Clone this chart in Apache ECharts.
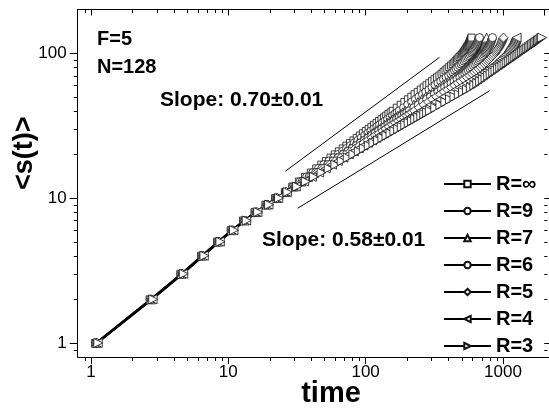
<!DOCTYPE html>
<html><head><meta charset="utf-8">
<script src="https://cdn.jsdelivr.net/npm/echarts@6/dist/echarts.min.js"></script>
<style>html,body{margin:0;padding:0;background:#fff}#c{width:549px;height:408px}</style>
</head><body><div id="c"></div>
<script>
// s values (cluster size), shared by all series
const sValues = [1,2,3,4,5,6,7,8,9,10,11,12,13,14,15,16,17,18,19,20,21,22,23,24,25,26,27,28,29,30,31,32,33,34,35,36,37,38,39,40,
  42,44,46,48,50,52,54,56,58,60,62,64,66,68,70,72,74,76,78,80,82,84,86,88,90,92,94,96,98,100,102,104,106,108,110,112,114,116,118,120,122,124,126,128];
// time values for each series
const tRinf = [1.07,2.67,4.47,6.32,8.27,10.4,12.8,15.5,18.6,21.9,25.8,29.2,32.6,36.2,39.9,43.6,47.5,51.4,55.5,59.6,
  63.8,68.1,72.5,77.0,81.5,86.1,90.8,95.5,100.3,105.2,110.2,115.1,120.2,125.3,130.5,135.8,141.1,146.4,151.9,157.4,
  168.5,179.8,191.4,203.1,215.1,227.2,239.5,252.0,264.8,277.6,290.6,303.9,317.2,330.8,344.4,357.2,369.3,381.4,393.8,406.0,
  418.4,430.8,442.0,452.1,462.3,472.5,482.5,492.7,502.7,512.9,519.9,526.9,533.9,540.8,547.6,554.5,561.3,566.7,570.9,574.7,
  578.7,582.8,586.6,590.2];
const tR9 = [1.08,2.70,4.52,6.39,8.36,10.5,13.0,15.7,18.9,22.2,26.0,29.6,33.3,37.2,41.2,45.3,49.5,53.9,58.4,63.0,
  67.8,72.6,77.5,82.5,87.7,92.9,98.3,103.7,109.2,114.8,120.6,126.3,132.2,138.2,144.3,150.4,156.6,163.0,169.3,175.8,
  188.9,202.5,216.2,230.2,244.6,259.3,274.2,289.2,304.6,320.4,336.4,352.5,368.9,385.6,402.5,417.0,429.9,443.0,456.0,469.0,
  482.2,495.2,507.5,519.2,530.8,542.4,554.1,565.7,577.1,588.8,596.5,604.2,611.7,619.3,626.9,634.2,641.6,647.7,652.6,656.9,
  661.4,666.1,670.3,674.5];
const tR7 = [1.09,2.73,4.56,6.45,8.44,10.6,13.1,15.9,19.1,22.5,26.2,30.0,33.9,38.1,42.4,46.8,51.4,56.2,61.1,66.2,
  71.4,76.7,82.1,87.8,93.5,99.4,105.4,111.5,117.7,124.0,130.5,137.1,143.8,150.6,157.5,164.6,171.7,178.9,186.3,193.8,
  208.9,224.6,240.6,257.0,273.8,290.9,308.5,326.4,344.6,363.2,382.1,401.5,421.0,441.0,461.3,478.2,493.2,508.2,523.3,538.3,
  553.4,568.6,582.6,596.1,609.4,622.8,636.2,649.6,662.7,676.1,684.2,692.3,700.5,708.4,716.3,724.3,732.0,738.1,742.0,745.6,
  749.4,753.2,756.8,760.3];
const tR6 = [1.10,2.75,4.60,6.50,8.50,10.7,13.2,16.0,19.2,22.6,26.3,30.3,34.4,38.7,43.2,47.9,52.8,57.9,63.1,68.5,
  74.1,79.8,85.6,91.7,97.9,104.2,110.7,117.3,124.1,131.0,138.1,145.3,152.6,160.1,167.7,175.4,183.3,191.3,199.5,207.7,
  224.4,241.9,259.7,277.9,296.8,316.0,335.6,355.7,376.3,397.2,418.6,440.5,462.7,485.3,508.5,527.2,543.1,559.2,575.1,591.2,
  607.5,623.6,639.0,653.6,668.3,682.9,697.5,712.2,726.6,741.3,750.3,759.1,768.1,776.8,785.4,794.2,802.6,809.6,815.0,819.7,
  824.8,830.1,834.8,839.5];
const tR5 = [1.11,2.78,4.64,6.56,8.58,10.8,13.3,16.2,19.4,22.8,26.5,30.6,34.9,39.5,44.3,49.3,54.5,59.9,65.6,71.4,
  77.4,83.6,90.0,96.6,103.4,110.4,117.5,124.9,132.3,140.0,147.8,155.8,163.9,172.3,180.8,189.5,198.3,207.3,216.4,225.7,
  244.6,264.4,284.6,305.4,326.8,348.9,371.4,394.5,418.0,442.4,467.1,492.4,518.1,544.5,571.3,595.2,617.3,639.7,662.2,684.9,
  707.6,730.7,751.2,769.8,788.1,806.8,825.2,843.9,862.4,881.0,892.5,904.1,915.3,926.6,938.0,949.0,960.0,969.2,976.4,982.9,
  989.7,996.5,1003.0,1009.3];
const tR4 = [1.12,2.81,4.69,6.63,8.67,10.9,13.5,16.3,19.6,23.1,26.7,31.0,35.7,40.6,45.8,51.2,56.9,62.8,69.0,75.4,
  82.1,89.1,96.2,103.6,111.3,119.2,127.2,135.6,144.1,152.8,161.8,171.0,180.4,190.0,199.8,209.9,220.1,230.7,241.3,252.1,
  274.4,297.7,321.6,346.2,371.8,397.9,425.1,452.9,481.3,510.6,540.5,571.2,602.4,634.7,667.7,698.5,728.8,759.8,790.7,822.2,
  854.4,886.9,914.6,938.5,962.4,986.7,1010.9,1035.4,1059.5,1083.9,1099.2,1114.3,1129.3,1144.4,1159.3,1174.1,1188.8,1201.1,1210.6,1219.8,
  1229.1,1238.5,1247.4,1256.0];
const tR3 = [1.13,2.84,4.74,6.70,8.76,11.0,13.6,16.5,19.8,23.4,27.0,31.7,36.7,42.1,47.8,53.9,60.3,67.0,74.1,81.5,
  89.2,97.1,105.5,114.1,123.1,132.4,141.9,151.8,162.0,172.4,183.3,194.3,205.7,217.5,229.4,241.6,254.2,267.1,280.2,293.8,
  321.3,350.4,380.4,411.4,443.8,477.0,511.6,547.3,583.9,618.5,649.7,681.7,714.0,747.1,780.4,814.2,848.6,883.5,919.0,954.8,
  990.8,1027.8,1064.9,1102.6,1140.2,1179.0,1217.9,1257.6,1297.1,1337.2,1377.9,1418.8,1460.1,1501.8,1544.2,1586.6,1629.6,1672.1,1714.0,1756.2,
  1799.2,1841.6,1885.2,1928.3];
const seriesNames = ['R=\u221E','R=9','R=7','R=6','R=5','R=4','R=3'];
const seriesTimes = [tRinf,tR9,tR7,tR6,tR5,tR4,tR3];
// guide lines (start / end points)
const slopeHighLine = [[26,15.3],[345,93.5]];
const slopeLowLine = [[32,8.5],[800,55]];
// minor tick values
const xMinorTicks = [0.9,2,3,4,5,6,7,8,9,20,30,40,50,60,70,80,90,200,300,400,500,600,700,800,900];
const yMinorTicks = [0.9,2,3,4,5,6,7,8,9,20,30,40,50,60,70,80,90];

const FONT = '"Liberation Sans", Arial, Helvetica, sans-serif';
const symbols = [
  {symbol:'rect', size:7, rot:0},
  {symbol:'circle', size:8, rot:0},
  {symbol:'triangle', size:9, rot:0},
  {symbol:'circle', size:8, rot:0},
  {symbol:'diamond', size:9, rot:0},
  {symbol:'triangle', size:9, rot:90},
  {symbol:'triangle', size:9, rot:-90}
];

function powLabel(v){
  const l = Math.log10(v);
  return Math.abs(l - Math.round(l)) < 1e-6 ? String(Math.round(v)) : '';
}

const dataSeries = seriesNames.map((name, i) => ({
  name: name,
  type: 'line',
  xAxisIndex: 0, yAxisIndex: 0,
  data: sValues.map((s, k) => [seriesTimes[i][k], s]),
  symbol: symbols[i].symbol,
  symbolSize: symbols[i].size,
  symbolRotate: symbols[i].rot,
  itemStyle: {color:'#fff', borderColor:'#111', borderWidth:0.8},
  lineStyle: {color:'#000', width:1},
  emphasis: {disabled:true},
  silent: true,
  z: 3
}));

function minorTicks(values, dim){
  return {
    type:'custom', xAxisIndex:0, yAxisIndex:0, silent:true, clip:false, z:6,
    data: values.map(v => dim === 'x' ? [v, 1] : [1, v]),
    renderItem: function(params, api){
      const cs = params.coordSys;
      const st = {stroke:'#000', lineWidth:1};
      if (dim === 'x') {
        const x = Math.round(api.coord([api.value(0), 1])[0]) + 0.5;
        const yb = cs.y + cs.height, yt = cs.y;
        return {type:'group', children:[
          {type:'line', shape:{x1:x, y1:yb, x2:x, y2:yb+4}, style:st},
          {type:'line', shape:{x1:x, y1:yt, x2:x, y2:yt+3.5}, style:st}
        ]};
      } else {
        const y = Math.round(api.coord([1, api.value(1)])[1]) + 0.5;
        const xl = cs.x, xr = cs.x + cs.width;
        return {type:'group', children:[
          {type:'line', shape:{x1:xl-4, y1:y, x2:xl, y2:y}, style:st},
          {type:'line', shape:{x1:xr, y1:y, x2:xr+3, y2:y}, style:st}
        ]};
      }
    }
  };
}

const axisLineStyle = {color:'#000', width:1};
const chart = echarts.init(document.getElementById('c'), null, {renderer:'canvas'});
chart.setOption({
  animation: false,
  backgroundColor: '#fff',
  grid: {left:77.7, top:9.5, width:466.6, height:347.5, containLabel:false, outerBoundsMode:'none'},
  xAxis: [
    {type:'log', logBase:10, min:0.8, max:2000, position:'bottom',
     name:'time', nameLocation:'middle', nameGap:22, nameMoveOverlap:false,
     nameTextStyle:{fontSize:29, fontWeight:'bold', color:'#000', fontFamily:FONT, padding:[0,0,0,40]},
     axisLine:{show:true, onZero:false, lineStyle:axisLineStyle},
     axisTick:{show:true, inside:false, length:7, lineStyle:axisLineStyle},
     axisLabel:{fontSize:17, color:'#000', fontFamily:FONT, margin:7, formatter:powLabel, showMinLabel:false, showMaxLabel:false},
     splitLine:{show:false}, minorTick:{show:false}},
    {type:'log', logBase:10, min:0.8, max:2000, position:'top',
     axisLine:{show:true, onZero:false, lineStyle:axisLineStyle},
     axisTick:{show:true, inside:true, length:6, lineStyle:axisLineStyle},
     axisLabel:{show:false}, splitLine:{show:false}}
  ],
  yAxis: [
    {type:'log', logBase:10, min:0.8, max:200, position:'left',
     name:'<s(t)>', nameLocation:'middle', nameGap:40, nameMoveOverlap:false,
     nameTextStyle:{fontSize:27, fontWeight:'bold', color:'#000', fontFamily:FONT, padding:[0,0,0,60]},
     axisLine:{show:true, onZero:false, lineStyle:axisLineStyle},
     axisTick:{show:true, inside:false, length:8, lineStyle:axisLineStyle},
     axisLabel:{fontSize:17, color:'#000', fontFamily:FONT, margin:11, formatter:powLabel, showMinLabel:false, showMaxLabel:false},
     splitLine:{show:false}},
    {type:'log', logBase:10, min:0.8, max:200, position:'right',
     axisLine:{show:false},
     axisTick:{show:true, inside:false, length:5, lineStyle:axisLineStyle},
     axisLabel:{show:false}, splitLine:{show:false}}
  ],
  legend: {
    data: seriesNames, orient:'vertical', left:438, top:169, align:'left',
    itemWidth:47, itemHeight:8, itemGap:7,
    textStyle:{fontSize:20, fontWeight:'bold', color:'#000', fontFamily:FONT},
    selectedMode:false
  },
  graphic: [
    {type:'text', x:97, y:39, style:{text:'F=5', font:'bold 20px ' + FONT, fill:'#000', verticalAlign:'middle'}},
    {type:'text', x:97, y:67, style:{text:'N=128', font:'bold 20px ' + FONT, fill:'#000', verticalAlign:'middle'}},
    {type:'text', x:160, y:100, style:{text:'Slope: 0.70\u00B10.01', font:'bold 21px ' + FONT, fill:'#000', verticalAlign:'middle'}},
    {type:'text', x:262, y:240, style:{text:'Slope: 0.58\u00B10.01', font:'bold 21px ' + FONT, fill:'#000', verticalAlign:'middle'}}
  ],
  series: dataSeries.concat([
    {type:'line', name:'fit070', data:slopeHighLine, symbol:'none', silent:true,
     lineStyle:{color:'#000', width:1}, z:2},
    {type:'line', name:'fit058', data:slopeLowLine, symbol:'none', silent:true,
     lineStyle:{color:'#000', width:1}, z:2},
    minorTicks(xMinorTicks, 'x'),
    minorTicks(yMinorTicks, 'y')
  ])
});
</script>
</body></html>
